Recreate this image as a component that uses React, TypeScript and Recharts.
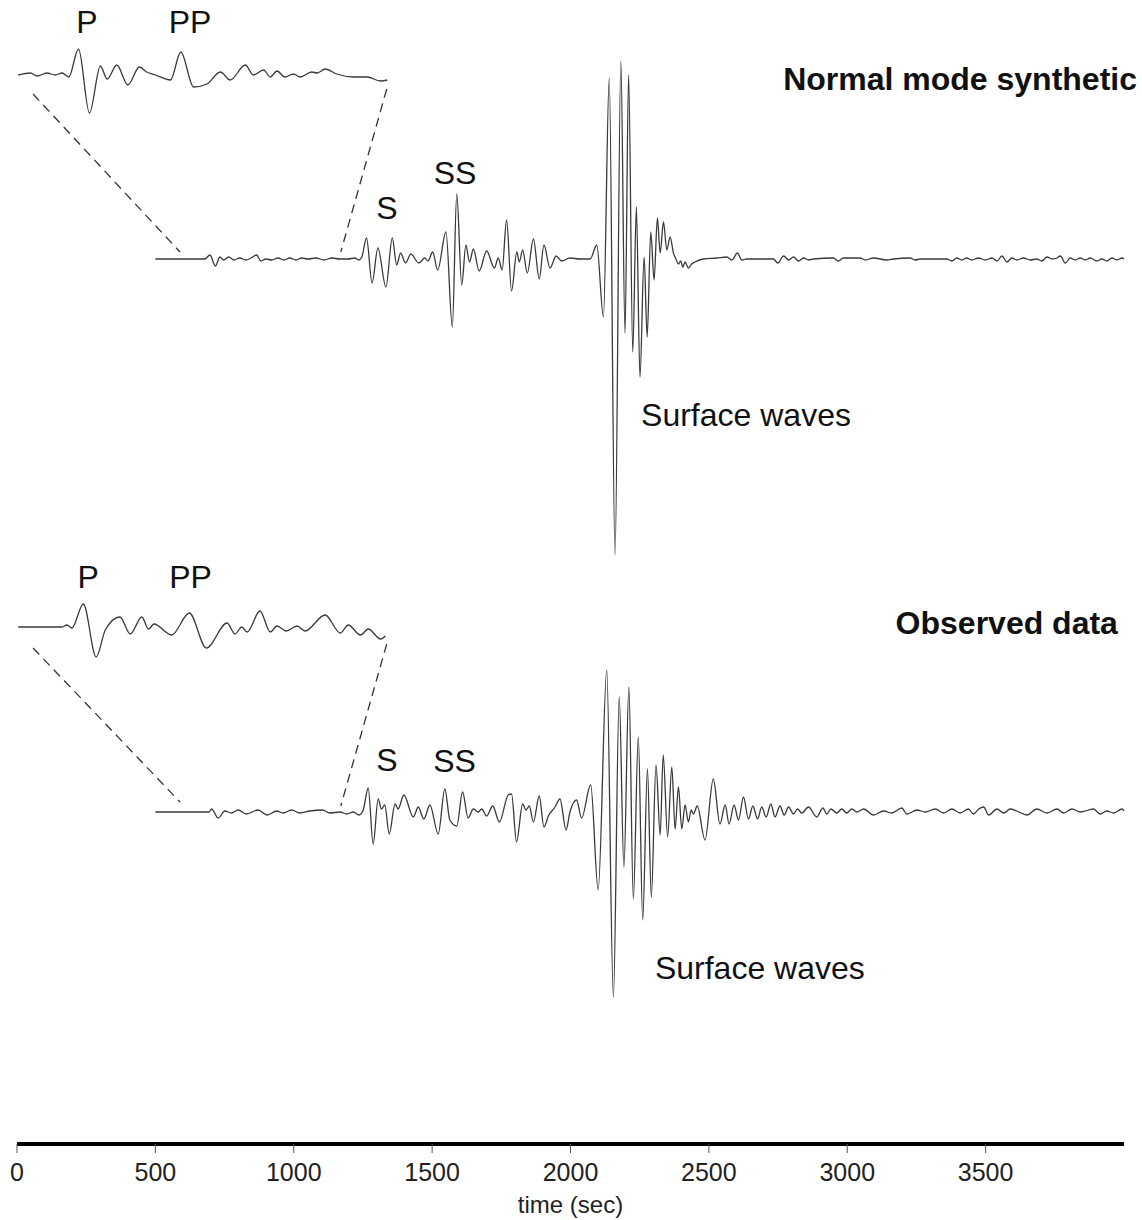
import { ComposedChart, Line, XAxis, YAxis, ReferenceLine, ReferenceDot, Label } from "recharts";

// seismogram traces: [time (s), amplitude]
const TIME_TICKS = [0, 500, 1000, 1500, 2000, 2500, 3000, 3500];

const SYNTHETIC: [number, number][] = [
  [500, 0], [679, 0], [697, 4], [717, -7], [733, 2], [747, -1], [765, 2], [784, -1], [805, 1], [827, -1],
  [845, 1], [866, 4], [881, -2], [899, 0], [921, -1], [943, 1], [964, -1], [986, 1], [1008, -1], [1029, 1],
  [1051, 0], [1080, 1], [1109, -1], [1138, 1], [1167, 0], [1196, 0], [1221, 1], [1235, -1], [1246, 2],
  [1263, 21], [1283, -24], [1304, 11], [1333, -28], [1356, 21], [1372, -6], [1386, 6], [1404, -4], [1423, 5],
  [1452, -4], [1474, 1], [1485, -2], [1502, 7], [1520, -11], [1550, 27], [1573, -68], [1589, 65], [1607, -26],
  [1622, 14], [1635, -3], [1649, 10], [1670, -12], [1697, 8], [1725, -9], [1739, 1], [1753, -11], [1769, 39],
  [1787, -32], [1806, 7], [1815, -3], [1827, 9], [1844, -14], [1866, 20], [1887, -20], [1904, 14], [1926, -9],
  [1948, 3], [1968, -2], [1998, 1], [2034, 0], [2071, 0],
  [2095, 14], [2119, -58], [2140, 181], [2161, -296], [2182, 198], [2197, -74], [2210, 184], [2225, -93],
  [2238, 52], [2251, -118], [2266, 2], [2277, -78], [2290, 27], [2302, -21], [2314, 41], [2324, 6], [2336, 37],
  [2348, 9], [2360, 22], [2372, 6], [2381, 0], [2390, -5],
  [2398, -2], [2406, -8], [2414, -3], [2426, -9], [2438, -5], [2450, -3], [2480, 0], [2528, 1], [2565, 2],
  [2583, -1], [2603, 6], [2619, -1], [2637, 0], [2733, 0], [2749, -4], [2770, 3], [2788, -1], [2806, 2],
  [2824, -2], [2842, 1], [2860, -1], [2878, 0], [2950, 1], [2968, -2], [2986, 1], [3047, 1], [3065, -1],
  [3095, 1], [3143, -1], [3167, 0], [3227, 1], [3245, -1], [3264, 0], [3360, 0], [3378, -2], [3396, 1],
  [3414, -1], [3432, 1], [3450, -1], [3474, 1], [3499, -1], [3523, 1], [3541, -2], [3559, 3], [3577, -3],
  [3595, 1], [3613, -1], [3637, 1], [3661, -1], [3685, 0], [3703, -2], [3722, 2], [3740, 0], [3758, 1],
  [3770, 3], [3788, -4], [3806, 1], [3824, -1], [3842, 1], [3860, -1], [3878, 1], [3902, -2], [3920, 0],
  [3938, -2], [3956, 1], [3975, -1], [3993, 1], [4000, 0],
];

const OBSERVED: [number, number][] = [
  [500, 0], [694, 0], [703, 3], [727, -6], [751, 1], [775, -1], [799, 2], [829, -2], [871, 2], [904, -3],
  [938, 1], [962, -1], [992, 2], [1022, -1], [1058, 1], [1104, 2], [1130, -1], [1167, 0], [1191, -2],
  [1215, 0], [1236, -3], [1251, 2],
  [1269, 24], [1287, -32], [1305, 13], [1317, 3], [1329, 7], [1345, -22], [1366, 8], [1377, 3], [1398, 17],
  [1432, -5], [1450, 5], [1470, -7], [1492, 7], [1522, -22], [1546, 23], [1564, -8], [1589, -14], [1610, 20],
  [1630, -6], [1649, 3], [1667, 0], [1679, 3], [1697, -4], [1719, 6], [1743, -10], [1775, 17], [1787, 18],
  [1805, -30], [1827, 8], [1839, 2], [1851, 6], [1866, -10], [1887, 16], [1904, -15], [1920, -4], [1944, 5],
  [1962, 13], [1984, -18], [1998, 0], [2022, 12], [2040, -6], [2073, 27],
  [2100, -78], [2131, 142], [2155, -185], [2176, 115], [2193, -55], [2211, 125], [2227, -87], [2245, 75],
  [2261, -108], [2278, 43], [2292, -85], [2309, 47], [2324, -23], [2335, 57], [2351, -25], [2366, 45],
  [2378, -17], [2390, 25], [2402, -17], [2414, 7], [2426, -10], [2436, 2], [2444, -2], [2458, 6], [2486, -28],
  [2516, 33], [2540, -12], [2559, 7], [2573, -12],
  [2591, 7], [2607, -8], [2625, 15], [2643, -7], [2659, 6], [2676, -7], [2691, 5], [2707, -5], [2724, 8],
  [2739, -5], [2757, 6], [2772, -3], [2788, 5], [2806, -2], [2820, 3], [2836, -1], [2860, 5], [2890, -5],
  [2912, 4], [2926, -2], [2941, 3], [2962, -1], [2980, 3], [2998, -1], [3017, 3], [3035, 0], [3059, 3],
  [3095, -3], [3131, 1], [3161, -1], [3197, 4], [3215, -2], [3252, 2], [3282, 0], [3318, 3], [3348, -1],
  [3378, 3], [3408, -1], [3438, 3], [3456, -2], [3475, 3], [3493, 5], [3511, -3], [3541, 3], [3565, -1],
  [3589, 3], [3613, 1], [3649, -3], [3685, 3], [3722, -1], [3758, 3], [3782, -1], [3812, 3], [3842, 0],
  [3890, 3], [3914, -2], [3938, 1], [3963, -1], [3993, 3], [4000, 1],
];

// zoomed P / PP windows (inset)
const SYNTHETIC_ZOOM: [number, number][] = [
  [564, 0], [584, 2], [595, -1], [611, 2], [625, 0], [636, 2], [647, -2], [663, 26], [681, -38], [699, 9],
  [710, -4], [726, 10], [744, -10], [763, 8], [775, 3], [789, 0], [814, -5], [831, 23], [852, -12], [874, -9],
  [896, 3], [912, -5], [937, 10], [950, 0], [967, 5], [978, -2], [989, 4], [1002, -2], [1016, 1], [1027, -2],
  [1046, 3], [1055, 2], [1068, 6], [1087, 1], [1115, -2], [1137, -2], [1159, -6], [1170, -5],
];

const OBSERVED_ZOOM: [number, number][] = [
  [564, 0], [622, 0], [636, 0], [644, 2], [652, -1], [671, 23], [692, -30], [707, -3], [731, 10], [748, -7],
  [767, 10], [778, -2], [787, 3], [816, -8], [845, 14], [873, -21], [907, 4], [920, -7], [931, 0], [940, -5],
  [961, 16], [978, -5], [989, 1], [1004, -4], [1022, 1], [1035, -4], [1068, 12], [1093, -6], [1106, 2],
  [1126, -8], [1139, -2], [1159, -12], [1167, -9],
];

const W = 1142;
const H = 1220;
const AXIS_H = 76;
const PLOT_H = H - AXIS_H;
const INSET_DOMAIN = [562, 2380];
const FONT = "'Liberation Sans', Arial, sans-serif";
const TRACE = "#3a3a3a";

// vertical placement of each trace (axis units = rows from top)
const toRows = (trace: [number, number][], base: number) => trace.map(([t, a]) => ({ t, y: base - a }));

const notes = [
  { text: "P", t: 253, y: 33, anchor: "middle", size: 32 },
  { text: "PP", t: 625, y: 33, anchor: "middle", size: 32 },
  { text: "S", t: 1337, y: 219, anchor: "middle", size: 32 },
  { text: "SS", t: 1583, y: 184, anchor: "middle", size: 32 },
  { text: "Surface waves", t: 2255, y: 426, anchor: "start", size: 32 },
  { text: "Normal mode synthetic", t: 4047, y: 90, anchor: "end", size: 32, bold: true },
  { text: "P", t: 257, y: 588, anchor: "middle", size: 32 },
  { text: "PP", t: 627, y: 588, anchor: "middle", size: 32 },
  { text: "S", t: 1337, y: 771, anchor: "middle", size: 32 },
  { text: "SS", t: 1581, y: 772, anchor: "middle", size: 32 },
  { text: "Surface waves", t: 2305, y: 979, anchor: "start", size: 32 },
  { text: "Observed data", t: 3978, y: 634, anchor: "end", size: 32, bold: true },
];

const zoomLinks = [
  [{ x: 58, y: 94 }, { x: 589, y: 252 }],
  [{ x: 1336, y: 89 }, { x: 1170, y: 252 }],
  [{ x: 58, y: 648 }, { x: 589, y: 802 }],
  [{ x: 1336, y: 644 }, { x: 1170, y: 806 }],
];

export default function App() {
  const synth = toRows(SYNTHETIC, 259);
  const obs = toRows(OBSERVED, 812);
  const synthZoom = toRows(SYNTHETIC_ZOOM, 75);
  const obsZoom = toRows(OBSERVED_ZOOM, 627);

  return (
    <div style={{ position: "absolute", left: 0, top: 0, width: W, height: H, background: "#fff", fontFamily: FONT }}>
      <ComposedChart width={W} height={H} margin={{ top: 0, right: 18, bottom: 0, left: 17 }}>
        <XAxis
          xAxisId="t"
          type="number"
          dataKey="t"
          domain={[0, 4000]}
          ticks={TIME_TICKS}
          height={AXIS_H}
          axisLine={{ stroke: "#000", strokeWidth: 4 }}
          tickLine={{ stroke: "#555" }}
          tickSize={9}
          tickMargin={10}
          tick={{ fontSize: 25, fill: "#222" }}
        >
          <Label value="time (sec)" position="insideBottom" offset={7} style={{ fontSize: 24, fill: "#222" }} />
        </XAxis>
        <XAxis xAxisId="inset" type="number" dataKey="t" domain={INSET_DOMAIN} height={0} hide />
        <YAxis yAxisId="px" type="number" domain={[0, PLOT_H]} reversed width={0} hide />

        {zoomLinks.map((seg, i) => (
          <ReferenceLine
            key={"link" + i}
            xAxisId="t"
            yAxisId="px"
            segment={seg}
            stroke="#333"
            strokeWidth={1.3}
            strokeDasharray="9 6"
          />
        ))}

        <Line xAxisId="t" yAxisId="px" data={synth} dataKey="y" type="monotone" stroke={TRACE} strokeWidth={1.3} dot={false} activeDot={false} isAnimationActive={false} />
        <Line xAxisId="t" yAxisId="px" data={obs} dataKey="y" type="monotone" stroke={TRACE} strokeWidth={1.3} dot={false} activeDot={false} isAnimationActive={false} />
        <Line xAxisId="inset" yAxisId="px" data={synthZoom} dataKey="y" type="monotone" stroke={TRACE} strokeWidth={1.3} dot={false} activeDot={false} isAnimationActive={false} />
        <Line xAxisId="inset" yAxisId="px" data={obsZoom} dataKey="y" type="monotone" stroke={TRACE} strokeWidth={1.3} dot={false} activeDot={false} isAnimationActive={false} />

        {notes.map((n, i) => (
          <ReferenceDot
            key={"note" + i}
            xAxisId="t"
            yAxisId="px"
            x={n.t}
            y={n.y}
            r={0}
            fill="none"
            stroke="none"
            ifOverflow="visible"
            label={{
              content: (p: any) => (
                <text
                  x={p.viewBox.x}
                  y={p.viewBox.y}
                  textAnchor={n.anchor as any}
                  fontSize={n.size}
                  fontWeight={n.bold ? "bold" : "normal"}
                  fill="#111"
                >
                  {n.text}
                </text>
              ),
            }}
          />
        ))}
      </ComposedChart>
    </div>
  );
}
